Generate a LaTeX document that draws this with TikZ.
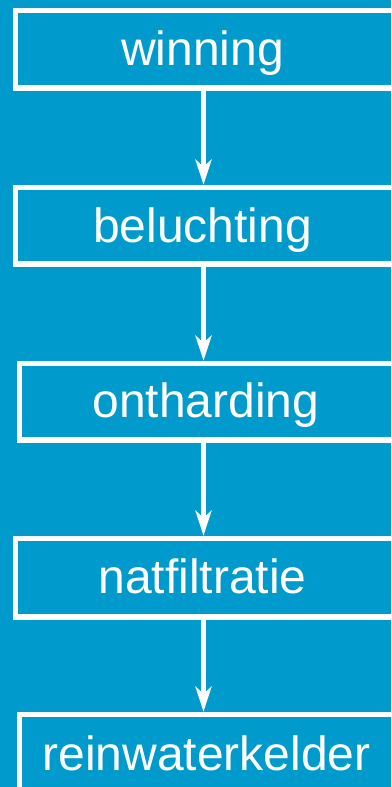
\documentclass[tikz,border=0pt]{standalone}
\usepackage{fontspec}
\setmainfont{Liberation Sans}
\usetikzlibrary{arrows.meta}
\definecolor{procblue}{RGB}{0,155,204}
\tikzset{
  stagebox/.style={draw=white, line width=5.5pt, rectangle, inner sep=0pt, anchor=north west, minimum width=407pt},
  stagetext/.style={text=white, font=\fontsize{48}{52}\selectfont, inner sep=0pt, anchor=base},
  flow/.style={draw=white, line width=5pt, -{Stealth[length=25pt, width=16pt, inset=7pt]}}
}
\begin{document}
\begin{tikzpicture}[x=1pt,y=-1pt]
  \useasboundingbox (0,0) rectangle (391,787);
  \fill[procblue] (0,0) rectangle (391,787);
  \clip (0,0) rectangle (391,787);

  % process stages (frames run off the right edge)
  \node[stagebox, minimum height=77.5pt] (win) at (12.75,7.75) {};
  \node[stagebox, minimum height=76.5pt] (bel) at (12.75,184.75) {};
  \node[stagebox, minimum height=76.5pt] (ont) at (16.75,360.75) {};
  \node[stagebox, minimum height=78.5pt] (nat) at (12.75,535.75) {};
  \node[stagebox, minimum height=108pt]  (rwk) at (16.75,711.75) {};

  % labels
  \node[stagetext] (winT) at (202.5,65)  {winning};
  \node[stagetext] (belT) at (202.5,242) {beluchting};
  \node[stagetext] (ontT) at (206,417)   {ontharding};
  \node[stagetext] (natT) at (202.5,593) {natfiltratie};
  \node[stagetext] (rwkT) at (206.5,770) {reinwaterkelder};

  % flow arrows along a common axis
  \coordinate (axis) at (203.5,0);
  \draw[flow] (win.south -| axis) -- (bel.north -| axis);
  \draw[flow] (bel.south -| axis) -- (ont.north -| axis);
  \draw[flow] (ont.south -| axis) -- (nat.north -| axis);
  \draw[flow] (nat.south -| axis) -- (rwk.north -| axis);
\end{tikzpicture}
\end{document}
